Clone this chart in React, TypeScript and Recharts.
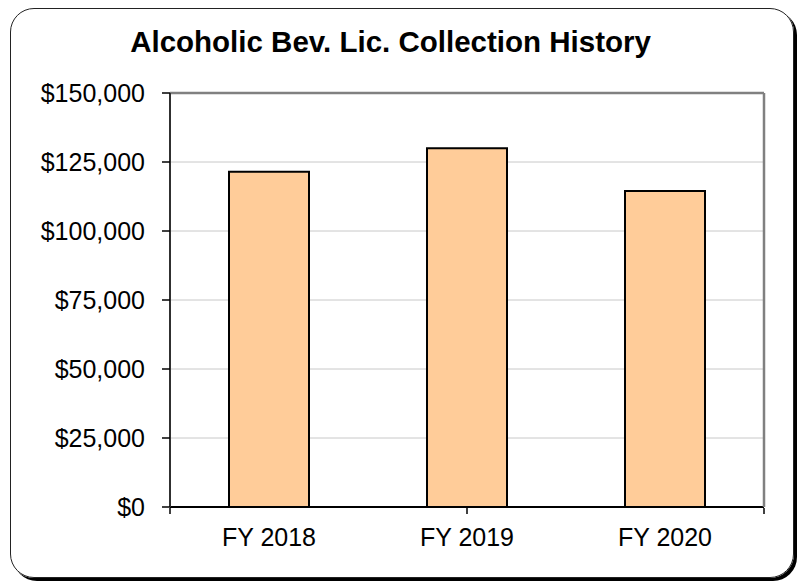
import React from 'react';
import { BarChart, Bar, XAxis, YAxis, CartesianGrid, ReferenceLine } from 'recharts';

const categories = ['FY 2018', 'FY 2019', 'FY 2020'];
const collections = [121500, 130000, 114500];
const yTicks = [0, 25000, 50000, 75000, 100000, 125000, 150000];
const boundaryTicks = [0, 1, 2, 3];

const data = categories.map((c, i) => ({ name: c, value: collections[i] }));

const FONT = "Arial, 'Liberation Sans', sans-serif";

export default function App() {
  return (
    <div style={{ position: 'absolute', left: 0, top: 0, width: 798, height: 581, overflow: 'hidden', background: '#fff' }}>
      <div
        style={{
          position: 'absolute',
          left: 10,
          top: 8,
          width: 784,
          height: 570,
          boxSizing: 'border-box',
          border: '1px solid #222',
          borderRadius: 24,
          boxShadow: '3px 3px 0 #000',
        }}
      />
      <div
        style={{
          position: 'absolute',
          left: 0,
          top: 27,
          width: 781,
          textAlign: 'center',
          fontFamily: FONT,
          fontWeight: 'bold',
          fontSize: 29.5,
          lineHeight: '29px',
          color: '#000',
        }}
      >
        Alcoholic Bev. Lic. Collection History
      </div>
      <div style={{ position: 'absolute', left: 0, top: 0 }}>
        <BarChart
          width={798}
          height={581}
          data={data}
          margin={{ top: 93, right: 33, bottom: 43, left: 0 }}
          barSize={80}
        >
          <CartesianGrid horizontal={true} vertical={false} stroke="#c8c8c8" strokeWidth={1} yAxisId="y" xAxisId="a" />
          <XAxis
            xAxisId="a"
            dataKey="name"
            height={1}
            axisLine={{ stroke: '#000', strokeWidth: 2 }}
            tickLine={false}
            tickSize={0}
            tickMargin={21}
            tick={{ fill: '#000', fontSize: 25, fontFamily: FONT }}
            interval={0}
          />
          <XAxis
            xAxisId="z"
            type="number"
            domain={[0, 3]}
            ticks={boundaryTicks}
            interval={0}
            allowDataOverflow
            height={30}
            axisLine={false}
            tickLine={{ stroke: '#000', strokeWidth: 1.5 }}
            tickSize={6}
            tickFormatter={() => ''}
          />
          <YAxis
            yAxisId="y"
            width={170}
            domain={[0, 150000]}
            ticks={yTicks}
            interval={0}
            axisLine={{ stroke: '#303030', strokeWidth: 2 }}
            tickLine={{ stroke: '#000', strokeWidth: 1.5 }}
            tickSize={8}
            tickMargin={17}
            tick={{ fill: '#000', fontSize: 25, fontFamily: FONT }}
            tickFormatter={(v: number) => `$${v.toLocaleString('en-US')}`}
          />
          <YAxis
            yAxisId="r"
            orientation="right"
            width={1}
            domain={[0, 150000]}
            axisLine={{ stroke: '#808080', strokeWidth: 2.5 }}
            tickLine={false}
            tick={false}
          />
          <ReferenceLine yAxisId="y" xAxisId="a" y={150000} stroke="#808080" strokeWidth={2.5} />
          <Bar
            dataKey="value"
            xAxisId="a"
            yAxisId="y"
            fill="#FFCC99"
            stroke="#000"
            strokeWidth={2}
            isAnimationActive={false}
          />
        </BarChart>
      </div>
    </div>
  );
}
